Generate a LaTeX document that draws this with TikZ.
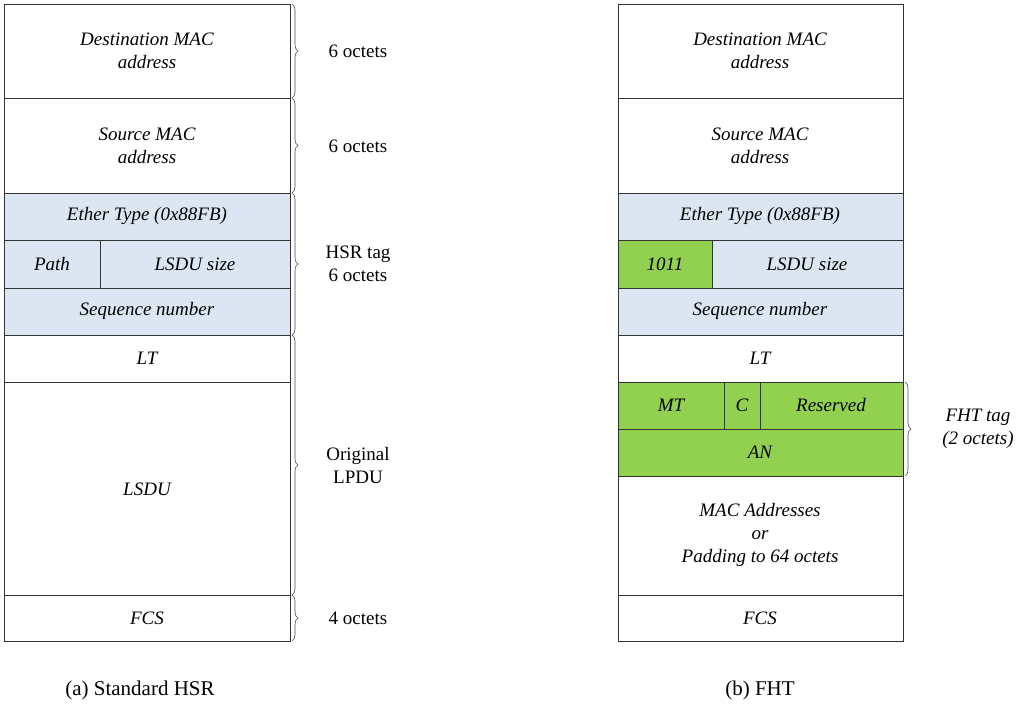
\documentclass[tikz,border=0pt]{standalone}
\usepackage{fontspec}
\setmainfont{Liberation Serif}
\usetikzlibrary{decorations.pathreplacing}
\definecolor{lb}{HTML}{DCE6F2}
\definecolor{gr}{HTML}{92D050}
\begin{document}
\begin{tikzpicture}[x=1pt,y=-1pt,
 box/.style={draw=black!80,line width=0.8pt},
 t/.style={font=\fontsize{19}{23}\selectfont\itshape,align=center},
 lab/.style={font=\fontsize{19}{23}\selectfont,align=center},
 br/.style={draw=black!70,line width=0.6pt,decorate,decoration={brace,amplitude=6pt}}]
\useasboundingbox (0,0) rectangle (1024,707);
% left column
\foreach \a/\b/\c in {4/98/white,98/193/white,193/240/lb,240/288/lb,288/335/lb,335/382/white,382/595/white,595/641/white}
  \draw[box,fill=\c] (4,\a) rectangle (290,\b);
\draw[box] (100,240) -- (100,288);
\node[t] (l1) at (147,51) {Destination MAC\\address};
\node[t] (l2) at (147,146) {Source MAC\\address};
\node[t] (l3) at (147,216) {Ether Type (0x88FB)};
\node[t] (l4) at (52,264) {Path};
\node[t] (l5) at (195,264) {LSDU size};
\node[t] (l6) at (147,311) {Sequence number};
\node[t] (l7) at (147,358) {LT};
\node[t] (l8) at (147,489) {LSDU};
\node[t] (l9) at (147,618) {FCS};
\draw[br] (292,4) -- (292,98);
\draw[br] (292,98) -- (292,193);
\draw[br] (292,193) -- (292,335);
\draw[br] (292,335) -- (292,595);
\draw[br] (292,595) -- (292,641);
\node[lab] (b1) at (358,51) {6 octets};
\node[lab] (b2) at (358,146) {6 octets};
\node[lab] (b3) at (358,264) {HSR tag\\6 octets};
\node[lab] (b4) at (358,465) {Original\\LPDU};
\node[lab] (b5) at (358,618) {4 octets};
% right column
\foreach \a/\b/\c in {4/98/white,98/193/white,193/240/lb,240/288/lb,288/335/lb,335/382/white,382/429/gr,429/476/gr,476/595/white,595/641/white}
  \draw[box,fill=\c] (618,\a) rectangle (903,\b);
\draw[box,fill=gr] (618,240) rectangle (712,288);
\draw[box] (724,382) -- (724,429);
\draw[box] (760,382) -- (760,429);
\node[t] (r1) at (760,51) {Destination MAC\\address};
\node[t] (r2) at (760,146) {Source MAC\\address};
\node[t] (r3) at (760,216) {Ether Type (0x88FB)};
\node[t] (r4) at (665,264) {1011};
\node[t] (r5) at (807,264) {LSDU size};
\node[t] (r6) at (760,311) {Sequence number};
\node[t] (r7) at (760,358) {LT};
\node[t] (r8) at (671,405) {MT};
\node[t] (r9) at (742,405) {C};
\node[t] (r10) at (831,405) {Reserved};
\node[t] (r11) at (760,452) {AN};
\node[t] (r12) at (760,535) {MAC Addresses\\or\\Padding to 64 octets};
\node[t] (r13) at (760,618) {FCS};
\draw[br] (905,382) -- (905,476);
\node[t] (ft) at (978,429) {FHT tag\\(2 octets)};
% captions
\node[font=\fontsize{21}{25}\selectfont] (ca) at (140,690) {(a) Standard HSR};
\node[font=\fontsize{21}{25}\selectfont] (cb) at (760,690) {(b) FHT};
\end{tikzpicture}
\end{document}
